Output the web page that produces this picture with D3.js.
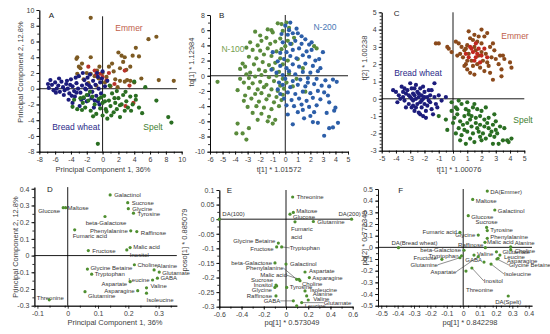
<!DOCTYPE html>
<html>
<head>
<meta charset="utf-8">
<script src="https://cdn.jsdelivr.net/npm/d3@7"></script>
<style>
body { margin: 0; background: #fff; }
svg { font-family: "Liberation Sans", Arial, sans-serif; }
.ttl { font-size: 7.5px; fill: #404040; }
.lbl { font-size: 6px; fill: #333; }
.letter { font-size: 8px; fill: #222; }
.grp { font-size: 8.5px; }
</style>
</head>
<body>
<svg id="chart" width="550" height="334"></svg>
<script>
// ---------- tick values ----------
var ticksA = [-8, -6, -4, -2, 0, 2, 4, 6, 8, 10];
var ticksBx = [-6, -5, -4, -3, -2, -1, 0, 1, 2, 3, 4, 5];
var ticksBy = [-10, -8, -6, -4, -2, 0, 2, 4, 6, 8];
var ticksCx = [-5, -4, -3, -2, -1, 0, 1, 2, 3, 4, 5];
var ticksCy = [-3, -2, -1, 0, 1, 2, 3, 4, 5];
var ticksDx = [-0.1, 0, 0.1, 0.2, 0.3];
var ticksDy = [-0.3, -0.2, -0.1, 0, 0.1, 0.2, 0.3, 0.4];
var ticksEx = [-0.6, -0.4, -0.2, 0, 0.2, 0.4, 0.6];
var ticksEy = [-0.3, -0.25, -0.2, -0.15, -0.1, -0.05, 0, 0.05, 0.1];
var ticksFx = [-0.5, -0.4, -0.3, -0.2, -0.1, 0, 0.1, 0.2, 0.3, 0.4];
var ticksFy = [-0.5, -0.4, -0.3, -0.2, -0.1, 0, 0.1, 0.2, 0.3, 0.4, 0.5];

// ---------- panel A scores (PCA) ----------
var breadA = [[-6.8,0.1],[-6.6,1.1],[-6.4,0.5],[-6.2,-0.2],[-6.0,0.8],[-5.8,0.0],[-5.6,0.4],[-5.4,-0.4],[-5.2,0.9],[-5.0,0.2],
  [-4.8,-0.2],[-4.6,0.6],[-4.4,0.0],[-4.2,-0.6],[-4.0,1.2],[-3.8,0.3],[-3.6,-0.3],[-3.5,-1.0],[-3.3,0.7],[-3.1,0.0],
  [-3.0,1.6],[-2.8,-0.5],[-2.6,0.4],[-2.4,-1.2],[-2.3,1.1],[-2.1,-0.1],[-2.0,0.6],[-1.8,-0.8],[-1.6,1.8],[-1.5,0.2],
  [-1.3,-0.4],[-1.2,1.0],[-1.0,-1.5],[-0.9,0.5],[-0.8,-0.9],[-0.6,1.5],[-0.5,0.0],[-0.4,-2.0],[-0.3,0.8],[-0.2,-0.6],
  [0.0,2.2],[0.3,0.3],[0.6,1.0],[-4.3,-1.4],[-3.8,-1.8],[-2.9,-2.2],[-2.0,-1.6],[-1.1,-2.4],[-6.9,0.6],[-5.5,1.3],
  [-4.9,-0.8],[-3.4,1.4],[-2.5,2.0],[-1.9,1.4],[-0.7,2.0],[-0.1,1.3],[-5.9,-0.5],[-4.5,1.0],[-3.9,-0.9],[-2.7,-1.4],
  [-1.4,-1.2],[-0.6,-1.6],[-2.2,0.0],[-1.7,0.4],[-3.3,-0.5],[-4.1,0.5]];
var speltA = [[-3.6,-1.4],[-3.2,-2.6],[-2.8,-1.2],[-2.5,-1.8],[-2.2,-2.4],[-2.0,-0.8],[-1.8,-1.5],[-1.5,-2.8],[-1.3,-1.0],[-1.0,-2.0],
  [-0.8,-3.2],[-0.5,-1.3],[-0.3,-2.5],[0.0,-1.8],[0.2,-0.9],[0.4,-2.6],[0.6,-3.8],[0.8,-1.5],[1.0,-2.2],[1.2,-0.6],
  [1.4,-3.0],[1.6,-1.8],[1.8,-2.6],[2.0,-1.2],[2.2,-3.6],[2.4,-2.0],[2.6,-0.8],[2.8,-2.8],[3.0,-1.6],[3.2,-2.4],
  [3.5,-1.0],[3.8,-2.0],[4.2,-1.4],[4.6,-2.4],[5.0,-3.1],[5.4,0.2],[6.8,-1.5],[8.3,-3.6],[8.7,-4.3],[-0.6,-7.0],
  [0.5,-2.9],[1.1,-3.4],[-2.6,-2.7],[-3.8,-2.3],[2.2,-2.1],[3.6,-2.8],[0.0,-3.4],[-1.2,-3.5],[1.8,-0.3],[0.9,0.4],
  [4.2,-0.9],[-1.6,-0.4],[-0.2,-1.1],[1.5,-1.2],[2.9,-0.4],[0.3,-1.6],[-2.4,-1.1],[4.0,0.9]];
var emmerA = [[-1.5,9.0],[5.8,6.3],[6.8,6.6],[4.2,5.2],[2.0,4.6],[2.4,4.2],[2.8,4.0],[4.6,4.1],[-3.2,4.0],[-3.3,3.8],
  [-1.5,4.0],[1.2,3.2],[-3.0,2.8],[-2.8,2.6],[-0.4,2.8],[2.2,2.6],[3.0,2.4],[3.5,2.8],[-3.2,1.9],[-1.5,1.9],
  [-1.0,1.6],[-0.5,1.3],[0.5,1.5],[1.6,1.2],[2.2,1.0],[2.8,0.9],[3.1,1.1],[3.5,1.0],[4.0,0.8],[4.9,1.3],
  [7.1,1.1],[9.0,1.0],[-2.4,1.2],[-1.8,0.7],[-0.8,0.4],[0.3,0.8],[1.0,0.3],[1.9,0.2],[-2.0,2.0],[-0.7,2.3],
  [0.0,2.0],[0.8,2.8],[2.6,3.4],[3.8,4.2],[-2.6,3.2],[1.4,2.2]];
var emmerRedA = [[2.8,2.3],[-1.0,2.3],[-0.8,1.8],[0.5,1.1],[1.5,0.6],[2.9,-2.2],[3.9,-1.8],[-1.8,2.8],[0.0,1.5],[3.4,0.4],[0.8,2.0],[-0.3,1.9]];

// ---------- panel B scores ----------
var n100 = [[0.1,7.0],[-0.3,6.8],[-0.6,6.9],[-1.1,6.0],[-1.0,5.7],[-2.4,5.8],[-0.2,5.9],[0.3,6.3],[-2.8,4.4],[-1.5,5.0],
  [-1.9,4.6],[-0.4,4.9],[-2.2,4.0],[-1.2,4.2],[-0.8,4.5],[0.2,4.6],[-3.1,3.7],[-2.6,3.4],[-2.0,3.3],[-1.4,3.6],
  [-0.7,3.2],[-0.3,3.5],[0.0,3.9],[-1.7,2.8],[-1.1,2.6],[-0.4,2.3],[-2.3,2.3],[-2.9,2.5],[-3.4,1.6],[-3.2,1.2],
  [-2.5,1.5],[-1.8,1.8],[-1.3,1.4],[-0.8,1.7],[-0.2,1.5],[0.2,2.0],[-2.1,0.8],[-1.6,0.6],[-1.0,0.9],[-0.5,0.5],
  [-2.8,0.4],[-3.1,0.2],[-3.6,-0.4],[-2.9,-0.3],[-2.4,-0.1],[-1.9,0.1],[-1.3,-0.2],[-0.7,0.0],[-0.2,-0.4],[0.3,0.3],
  [-5.4,-0.8],[-3.3,-0.9],[-2.6,-1.0],[-2.0,-0.8],[-1.5,-1.2],[-0.9,-0.7],[-0.4,-1.3],[0.1,-0.9],[-2.9,-1.6],[-2.2,-1.8],
  [-1.7,-1.5],[-1.1,-1.8],[-0.6,-2.0],[-0.1,-1.7],[-3.2,-2.6],[-2.4,-2.4],[-1.9,-2.3],[-1.3,-2.6],[-0.7,-2.8],[-0.2,-2.5],
  [-3.3,-3.3],[-2.7,-3.0],[-2.1,-3.4],[-1.5,-3.1],[-0.9,-3.5],[-0.3,-3.2],[-3.0,-4.1],[-2.3,-4.0],[-1.7,-4.2],[-1.1,-4.4],
  [-0.5,-4.0],[-2.6,-4.9],[-1.9,-5.0],[-1.3,-5.4],[-2.2,-5.8],[-1.4,-6.0],[-3.8,-6.3],[-3.9,-7.6],[-3.4,-7.6],[-3.1,-8.4],
  [-2.9,-6.9],[1.0,2.2],[1.4,1.0],[0.9,-0.4],[1.6,-2.1],[0.6,-1.4],[0.5,4.2],[0.7,5.0],[-3.6,0.9],[-3.8,-1.9],
  [-2.0,5.3],[-1.4,6.1],[2.3,3.9],[2.5,3.6],[-0.8,-5.8],[-1.0,-6.3]];
var n200 = [[0.0,6.6],[0.3,6.0],[0.6,5.6],[0.2,5.4],[1.3,5.2],[1.0,5.6],[1.6,4.8],[1.9,4.1],[0.8,4.6],[0.4,4.2],
  [-0.2,4.4],[1.3,4.2],[2.1,3.4],[1.7,3.2],[1.1,3.6],[0.6,3.4],[0.1,3.1],[-0.4,3.0],[-1.0,3.1],[2.4,2.0],
  [3.0,3.1],[2.7,2.2],[1.9,2.5],[1.4,2.7],[0.9,2.3],[0.4,2.6],[-0.1,2.2],[-0.6,1.9],[2.2,1.3],[1.6,1.6],
  [1.1,1.2],[0.6,1.5],[0.1,1.0],[-0.4,1.3],[2.6,0.6],[2.0,0.4],[1.4,0.5],[0.8,0.2],[0.3,0.6],[-0.2,0.1],
  [-0.7,0.4],[3.8,-0.5],[4.1,-0.8],[3.2,-0.6],[2.5,-0.4],[1.8,-0.3],[1.2,-0.5],[0.6,-0.7],[0.0,-0.4],[-0.5,-0.9],
  [3.5,-1.4],[2.9,-1.3],[2.3,-1.1],[1.6,-1.4],[1.0,-1.2],[0.4,-1.5],[-0.2,-1.2],[3.1,-2.2],[2.6,-2.0],[2.0,-2.3],
  [1.4,-2.1],[0.8,-2.4],[0.2,-2.2],[-0.4,-2.4],[2.8,-3.1],[2.2,-2.9],[1.7,-3.3],[1.1,-3.0],[0.5,-3.2],[-0.1,-3.0],
  [2.5,-3.9],[1.9,-4.1],[1.3,-3.8],[0.7,-4.0],[0.1,-3.9],[4.0,-4.2],[3.9,-4.6],[3.3,-4.9],[2.3,-4.8],[1.0,-4.8],
  [1.5,-5.6],[2.2,-6.1],[2.6,-6.2],[0.6,-6.4],[3.1,-7.9],[3.5,-6.9],[3.8,-6.8],[4.2,-6.2],[3.4,-2.6],[2.8,1.0],
  [-0.6,-1.8],[0.2,-5.1],[1.8,-0.9],[-1.1,0.8],[2.1,4.4],[0.9,6.2],[0.4,7.0],[-0.3,5.5],[3.5,-3.5],[2.0,-5.3],[1.4,-4.5]];

// ---------- panel C scores ----------
var breadC = [[-4.2,0.5],[-4.0,0.4],[-3.8,0.2],[-3.6,0.7],[-3.5,0.1],[-3.4,-0.1],[-3.3,0.3],[-3.2,0.5],[-3.1,-0.3],[-3.0,0.9],
  [-3.0,0.1],[-2.9,-0.5],[-2.8,0.3],[-2.8,-0.1],[-2.7,0.6],[-2.7,-0.7],[-2.6,0.8],[-2.6,0.0],[-2.5,-0.3],[-2.5,0.4],
  [-2.4,-0.8],[-2.4,0.1],[-2.3,-0.2],[-2.3,0.6],[-2.2,-0.5],[-2.2,0.2],[-2.1,-1.0],[-2.1,0.0],[-2.0,-0.3],[-2.0,0.4],
  [-1.9,-0.7],[-1.9,-1.1],[-1.8,0.1],[-1.8,-0.4],[-1.7,0.5],[-1.6,-0.2],[-1.5,0.5],[-1.5,-0.6],[-1.3,0.9],[-1.3,0.1],
  [-1.2,-0.3],[-1.0,0.2],[-0.8,-0.1],[-0.5,0.1],[-3.9,-0.2],[-3.7,0.0],[-3.3,-0.5],[-2.9,0.6],[-2.6,-0.5],[-2.9,0.0],
  [-3.1,0.2],[-2.4,0.3],[-2.2,-0.1],[-2.0,0.1],[-1.7,-0.1],[-3.5,0.4],[-2.7,0.2],[-2.1,0.7],[-1.6,0.2],[-1.4,-0.9],
  [-1.1,-0.5],[-2.3,-0.9],[-2.8,-0.4],[-3.4,0.6]];
var speltC = [[-1.0,-1.0],[-0.5,-1.2],[-0.4,-1.8],[-0.1,-0.2],[0.2,-0.5],[0.6,-0.3],[0.9,-0.6],[0.3,-0.9],[0.0,-1.4],[0.5,-1.3],
  [0.8,-1.0],[1.1,-0.7],[1.4,-0.5],[1.7,-0.6],[2.0,-0.7],[1.3,-1.0],[1.6,-1.1],[1.9,-1.0],[2.2,-1.2],[2.5,-1.1],
  [2.8,-1.5],[0.4,-1.7],[0.7,-1.5],[1.0,-1.4],[1.3,-1.6],[1.6,-1.4],[1.9,-1.5],[2.2,-1.6],[2.5,-1.7],[3.0,-1.8],
  [0.2,-2.0],[0.6,-2.1],[1.0,-1.9],[1.4,-2.0],[1.8,-1.9],[2.1,-2.0],[2.6,-2.1],[2.9,-2.2],[3.3,-1.6],[3.6,-1.7],
  [1.2,-2.3],[1.5,-2.5],[2.0,-2.4],[2.8,-2.6],[3.2,-2.6],[3.5,-2.4],[3.8,-2.4],[4.1,-2.3],[3.9,-2.5],[0.9,-2.6],
  [-0.1,-0.7],[0.4,-0.1],[1.0,-0.2],[1.5,-0.3],[2.3,-0.5],[0.1,-1.1],[0.8,-1.8],[1.2,-1.2],[1.7,-1.7],[2.4,-1.4],
  [2.7,-1.9],[3.1,-2.0],[0.5,-2.4],[1.9,-2.2],[2.3,-2.3],[3.0,-1.3],[1.1,-0.9],[0.3,-0.6],[2.9,-0.9]];
var emmerC = [[-1.2,3.2],[-1.0,3.2],[-0.4,3.0],[-0.3,2.9],[-0.1,2.7],[0.2,3.3],[0.4,3.2],[0.6,3.0],[0.8,2.8],[1.0,3.1],
  [1.2,3.5],[1.4,3.4],[1.5,3.7],[1.7,3.3],[2.0,4.0],[2.2,3.6],[2.4,3.8],[2.0,3.2],[2.6,3.0],[2.9,2.8],
  [3.3,2.5],[3.5,2.5],[3.2,2.0],[4.0,2.1],[4.1,1.8],[3.4,1.3],[2.8,1.1],[1.0,1.7],[0.9,2.0],[1.5,1.4],
  [2.2,1.6],[2.5,1.9],[0.7,2.4],[1.1,2.6],[1.3,2.2],[1.6,2.8],[1.8,2.5],[2.1,2.2],[2.3,2.6],[2.7,2.4],
  [3.0,2.3],[0.5,2.6],[1.0,2.2],[1.4,1.9],[1.9,1.8],[2.6,1.5],[3.4,1.7],[1.2,1.5],[0.8,1.9],[1.7,2.0],
  [2.4,2.1],[3.6,2.3],[2.0,2.7],[1.5,3.0],[0.9,2.9],[0.3,2.5],[2.8,3.2],[1.8,3.6],[1.1,3.9]];
var emmerRedC = [[1.4,2.7],[1.6,2.4],[1.8,2.9],[1.3,2.9],[2.0,2.5],[1.1,2.4],[1.7,2.6],[2.2,2.9],[1.5,2.2],[0.9,2.6],
  [1.9,2.1],[1.2,3.0],[2.4,2.4],[1.6,3.2]];

// ---------- loadings: [metabolite, x, y] ----------
var loadD = [["Galactinol",0.14,0.363],["Sucrose",0.198,0.317],["Glycine",0.2,0.281],["Tyrosine",0.217,0.254],
  ["Glucose",-0.015,0.287],["Maltose",-0.007,0.287],["beta-Galactose",0.123,0.234],["Phenylalanine",0.208,0.148],
  ["Raffinose",0.228,0.144],["Fumaric acid",0.023,0.154],["Fructose",0.068,0.03],["Malic acid",0.206,0.048],
  ["Inositol",0.195,0.034],["Choline",0.22,-0.055],["Alanine",0.285,-0.086],["Glutamate",0.302,-0.099],
  ["GABA",0.296,-0.135],["Leucine",0.28,-0.146],["Aspartate",0.206,-0.156],["Valine",0.26,-0.193],
  ["Asparagine",0.231,-0.21],["Isoleucine",0.26,-0.225],["Glycine Betaine",0.065,-0.081],["Tryptophan",0.079,-0.111],
  ["Glutamine",0.057,-0.216],["Threonine",-0.061,-0.265]];
var loadE = [["Threonine",0.06,0.076],["Maltose",0.066,0.023],["Glucose",0.036,0.017],["Fumaric acid",0.081,-0.009],
  ["Glutamine",0.246,-0.008],["DA(100)",-0.6,0],["DA(200)",0.59,0],["Glycine Betaine",-0.069,-0.082],
  ["Fructose",-0.084,-0.095],["Tryptophan",-0.039,-0.095],["beta-Galactose",-0.099,-0.15],["Galactinol",0.0,-0.154],
  ["Phenylalanine",0.096,-0.206],["Malic acid",0.117,-0.206],["Aspartate",0.171,-0.181],["Asparagine",0.21,-0.2],
  ["Choline",0.126,-0.211],["Sucrose",-0.09,-0.226],["Inositol",-0.084,-0.229],["Glycine",-0.1,-0.234],
  ["Tyrosine",0.006,-0.234],["Isoleucine",0.171,-0.246],["Raffinose",-0.09,-0.263],["Alanine",0.186,-0.263],
  ["GABA",0.066,-0.28],["Valine",0.2,-0.277],["Glutamate",0.141,-0.286],["Leucine",0.096,-0.297]];
var loadF = [["DA(Emmer)",0.147,0.482],["Maltose",0.058,0.411],["Galactinol",0.193,0.32],["Glucose",0.031,0.271],
  ["Sucrose",0.143,0.171],["Tyrosine",0.147,0.144],["Fumaric acid",-0.02,0.128],["Glycine",0.092,0.105],
  ["Phenylalanine",0.147,0.077],["Malic acid",0.133,0.043],["Raffinose",0.135,-0.003],["Alanine",0.29,0.005],
  ["Choline",0.29,-0.02],["DA(Bread wheat)",-0.395,-0.003],["beta-Galactose",0.005,-0.025],["Tryptophan",-0.01,-0.072],
  ["Fructose",-0.13,-0.103],["Glutamine",-0.02,-0.089],["Aspartate",0.092,-0.08],["Valine",0.066,-0.066],
  ["Glutamate",0.203,-0.038],["Leucine",0.224,-0.066],["Asparagine",0.213,-0.094],["GABA",0.127,-0.126],
  ["Glycine Betaine",0.206,-0.10],["Isoleucine",0.17,-0.143],["Inositol",0.053,-0.177],["Threonine",0.017,-0.203],
  ["DA(Spelt)",0.275,-0.417]];

// label placement: [dx, dy, anchor, leader line?, wrap?]
var placeD = {"Galactinol":[4,2,"start"],"Sucrose":[4,2,"start"],"Glycine":[4,2,"start"],"Tyrosine":[4,3,"start"],
  "Glucose":[-3,5,"end"],"Maltose":[2,2,"start"],"beta-Galactose":[1,9,"middle"],"Phenylalanine":[-3,2,"end"],
  "Raffinose":[4,3,"start"],"Fumaric acid":[-2,8,"start"],"Fructose":[4,2,"start"],"Malic acid":[3,1,"start"],
  "Inositol":[3,7,"start"],"Choline":[3,2,"start"],"Alanine":[3,-2,"start"],"Glutamate":[3,3,"start"],
  "GABA":[3,2,"start"],"Leucine":[-3,2,"end"],"Aspartate":[-3,4,"end"],"Valine":[4,0,"start"],
  "Asparagine":[-3,2,"end"],"Isoleucine":[0,9,"start"],"Glycine Betaine":[3,1,"start"],"Tryptophan":[3,2,"start"],
  "Glutamine":[3,6,"start"],"Threonine":[1,0,"middle"]};
var placeE = {"Threonine":[4,2,"start"],"Maltose":[3,1,"start"],"Glucose":[3,5,"start"],"Fumaric acid":[-4,9,"start",0,1],
  "Glutamine":[4,2,"start"],"DA(100)":[3,-3,"start"],"DA(200)":[-2,-3,"middle"],"Glycine Betaine":[-3,0,"end"],
  "Fructose":[-3,4,"end"],"Tryptophan":[8,3,"start",1],"beta-Galactose":[-3,2,"end"],"Galactinol":[4,2,"start"],
  "Phenylalanine":[-13,-9,"end",1],"Malic acid":[-12,-2,"end",1],"Aspartate":[4,1,"start"],"Asparagine":[3,2,"start"],
  "Choline":[2,5,"start"],"Sucrose":[-3,-3,"end"],"Inositol":[-4,1,"end"],"Glycine":[-3,5,"end"],
  "Tyrosine":[3,2,"start"],"Isoleucine":[5,1,"start"],"Raffinose":[-4,2,"end"],"Alanine":[6,0,"start"],
  "GABA":[-13,2,"end",1],"Valine":[5,1,"start"],"Glutamate":[22,2,"start",1],"Leucine":[8,2,"start"]};
var placeF = {"DA(Emmer)":[3,3,"start"],"Maltose":[3,4,"start"],"Galactinol":[3,3,"start"],"Glucose":[3,3,"start"],
  "Sucrose":[0,-3,"middle"],"Tyrosine":[3,1,"start"],"Fumaric acid":[-3,2,"end"],"Glycine":[-3,2,"end"],
  "Phenylalanine":[3,1,"start"],"Malic acid":[2,2,"start"],"Raffinose":[-2,-1,"end"],"Alanine":[4,-2,"start"],
  "Choline":[4,3,"start"],"DA(Bread wheat)":[-7,-3,"start"],"beta-Galactose":[-3,2,"end"],"Tryptophan":[-3,2,"end"],
  "Fructose":[-5,1,"end"],"Glutamine":[-22,9,"end",1],"Aspartate":[-22,17,"end",1],"Valine":[3,1,"start"],
  "Glutamate":[6,2,"start"],"Leucine":[4,4,"start"],"Asparagine":[9,5,"start"],"GABA":[-2,0,"end"],
  "Glycine Betaine":[12,8,"start",1],"Isoleucine":[13,12,"start",1],"Inositol":[12,15,"start",1],
  "Threonine":[0,21,"start"],"DA(Spelt)":[0,8,"middle"]};

var svg = d3.select("#chart");
var fmt = function(d) { return String(+d.toFixed(2)); };

// one panel: axes, minor ticks, crossing lines, titles
function panel(o) {
  var x = d3.scaleLinear().domain(o.xd).range(o.xr);
  var y = d3.scaleLinear().domain(o.yd).range(o.yr);
  var g = svg.append("g");
  var left = o.xr[0], bottom = o.yr[0];

  var minorX = d3.range(o.xd[0], o.xd[1] + 1e-9, o.xm);
  var minorY = d3.range(o.yd[0], o.yd[1] + 1e-9, o.ym);

  g.append("g").attr("transform", "translate(0," + bottom + ")")
    .call(d3.axisBottom(x).tickValues(minorX).tickSize(2).tickSizeOuter(0).tickFormat(""));
  g.append("g").attr("transform", "translate(" + left + ",0)")
    .call(d3.axisLeft(y).tickValues(minorY).tickSize(2).tickSizeOuter(0).tickFormat(""));

  var ax = g.append("g").attr("transform", "translate(0," + bottom + ")")
    .call(d3.axisBottom(x).tickValues(o.xt).tickSize(3).tickSizeOuter(0).tickPadding(2).tickFormat(fmt));
  var ay = g.append("g").attr("transform", "translate(" + left + ",0)")
    .call(d3.axisLeft(y).tickValues(o.yt).tickSize(3).tickSizeOuter(0).tickPadding(2).tickFormat(fmt));
  [ax, ay].forEach(function(a) {
    a.attr("font-family", null).attr("font-size", null);
    a.selectAll("text").style("font-size", "7px").style("fill", "#404040");
  });
  g.selectAll(".domain, .tick line").attr("stroke", "#000").attr("stroke-width", 0.8);

  // crossing lines through the origin
  g.append("line").attr("x1", x(0)).attr("x2", x(0)).attr("y1", bottom).attr("y2", y(o.vTop))
    .attr("stroke", "#000").attr("stroke-width", 0.9);
  g.append("line").attr("x1", x(o.hl)).attr("x2", x(o.hr)).attr("y1", y(0)).attr("y2", y(0))
    .attr("stroke", "#000").attr("stroke-width", 0.9);

  g.append("text").attr("class", "letter").attr("x", o.letter[0]).attr("y", o.letter[1])
    .attr("text-anchor", "middle").text(o.name);
  g.append("text").attr("class", "ttl").attr("x", o.xTitle[0]).attr("y", o.xTitle[1])
    .attr("text-anchor", "middle").text(o.xLabel);
  g.append("text").attr("class", "ttl").attr("text-anchor", "middle")
    .attr("transform", "translate(" + o.yTitle[0] + "," + o.yTitle[1] + ") rotate(-90)")
    .text(o.yLabel);
  return {g: g, x: x, y: y};
}

function dots(p, data, color, r) {
  p.g.append("g").selectAll("circle").data(data).enter().append("circle")
    .attr("cx", function(d) { return p.x(d[0]); })
    .attr("cy", function(d) { return p.y(d[1]); })
    .attr("r", r || 2.1)
    .attr("fill", color);
}

function groupLabel(p, txt, cx, cy, color) {
  p.g.append("text").attr("class", "grp").attr("x", cx).attr("y", cy)
    .attr("text-anchor", "middle").attr("fill", color).text(txt);
}

function loadings(p, data, place) {
  var lg = p.g.append("g");
  data.forEach(function(d) {
    var px = p.x(d[1]), py = p.y(d[2]);
    var pl = place[d[0]] || [3, 2, "start"];
    var tx = px + pl[0], ty = py + pl[1];
    if (pl[3]) {
      lg.append("line").attr("x1", px).attr("y1", py)
        .attr("x2", tx).attr("y2", ty - 2)
        .attr("stroke", "#444").attr("stroke-width", 0.6);
    }
    var t = lg.append("text").attr("class", "lbl").attr("x", tx).attr("y", ty)
      .attr("text-anchor", pl[2]);
    if (pl[4]) {
      d[0].split(" ").forEach(function(w, i) {
        t.append("tspan").attr("x", tx).attr("dy", i ? 8 : 0).text(w);
      });
    } else {
      t.text(d[0]);
    }
  });
  dots(p, data.map(function(d) { return [d[1], d[2]]; }), "#4f8f30", 1.6);
}

// ---------- top row ----------
var pA = panel({name: "A", xd: [-8, 10], xr: [39.3, 181.7], yd: [-8, 10], yr: [151.7, 10],
  xt: ticksA, yt: ticksA, xm: 1, ym: 1, vTop: 9.2, hl: -8, hr: 9.4,
  letter: [51.5, 18], xTitle: [103, 171.5], xLabel: "Principal Component 1, 36%",
  yTitle: [23, 72], yLabel: "Principal Component 2, 12.8%"});
dots(pA, emmerA, "#7d5a22");
dots(pA, emmerRedA, "#b8322a");
dots(pA, breadA, "#1c1c7c");
dots(pA, speltA, "#2a6e22");
groupLabel(pA, "Emmer", 129, 31, "#c0604a");
groupLabel(pA, "Bread wheat", 76, 130, "#2a2a8a");
groupLabel(pA, "Spelt", 153, 130, "#3e7e2e");

var pB = panel({name: "B", xd: [-6, 5], xr: [210, 348], yd: [-10, 8], yr: [151.7, 15],
  xt: ticksBx, yt: ticksBy, xm: 0.5, ym: 1, vTop: 8, hl: -6, hr: 5,
  letter: [221.7, 18], xTitle: [279, 171.5], xLabel: "t[1] * 1.01572",
  yTitle: [194, 62], yLabel: "tq[1] * 1.12984"});
dots(pB, n100, "#5a8b3c");
dots(pB, n200, "#2c5ea8");
groupLabel(pB, "N-200", 325, 30, "#4a78b5");
groupLabel(pB, "N-100", 233, 52, "#76a050");

var pC = panel({name: "C", xd: [-5, 5], xr: [381.7, 524.3], yd: [-3, 5], yr: [150.7, 12.3],
  xt: ticksCx, yt: ticksCy, xm: 0.5, ym: 0.2, vTop: 5, hl: -5, hr: 5,
  letter: [396.7, 16], xTitle: [459, 171.5], xLabel: "t[1] * 1.00076",
  yTitle: [366.5, 58], yLabel: "t[2] * 1.00238"});
dots(pC, emmerC, "#8b4a1c");
dots(pC, emmerRedC, "#c0281e");
dots(pC, breadC, "#1c1c7c");
dots(pC, speltC, "#2a6e22");
groupLabel(pC, "Emmer", 515, 39, "#c0604a");
groupLabel(pC, "Bread wheat", 418, 76, "#2a2a8a");
groupLabel(pC, "Spelt", 523, 123, "#3e7e2e");

// ---------- bottom row ----------
var pD = panel({name: "D", xd: [-0.11, 0.36], xr: [34.4, 176.8], yd: [-0.3, 0.41], yr: [305.7, 187.1],
  xt: ticksDx, yt: ticksDy, xm: 0.05, ym: 0.05, vTop: 0.41, hl: -0.11, hr: 0.36,
  letter: [50, 192], xTitle: [115, 324.5], xLabel: "Principal Component 1, 36%",
  yTitle: [17.5, 247], yLabel: "Principal Component 2, 12.8%"});
loadings(pD, loadD, placeD);

var pE = panel({name: "E", xd: [-0.6, 0.6], xr: [219.3, 352.7], yd: [-0.3, 0.1], yr: [306.7, 190],
  xt: ticksEx, yt: ticksEy, xm: 0.1, ym: 0.025, vTop: 0.1, hl: -0.6, hr: 0.6,
  letter: [229.3, 193], xTitle: [292, 324.5], xLabel: "pq[1] * 0.573049",
  yTitle: [186.5, 240], yLabel: "poso[1] * 0.885079"});
loadings(pE, loadE, placeE);

var pF = panel({name: "F", xd: [-0.52, 0.42], xr: [378, 532], yd: [-0.5, 0.5], yr: [305.7, 189],
  xt: ticksFx, yt: ticksFy, xm: 0.05, ym: 0.05, vTop: 0.5, hl: -0.52, hr: 0.42,
  letter: [400.7, 193], xTitle: [470, 324.5], xLabel: "pq[1] * 0.842298",
  yTitle: [366.5, 238], yLabel: "pq[2] * 0.772349"});
loadings(pF, loadF, placeF);
</script>
</body>
</html>
